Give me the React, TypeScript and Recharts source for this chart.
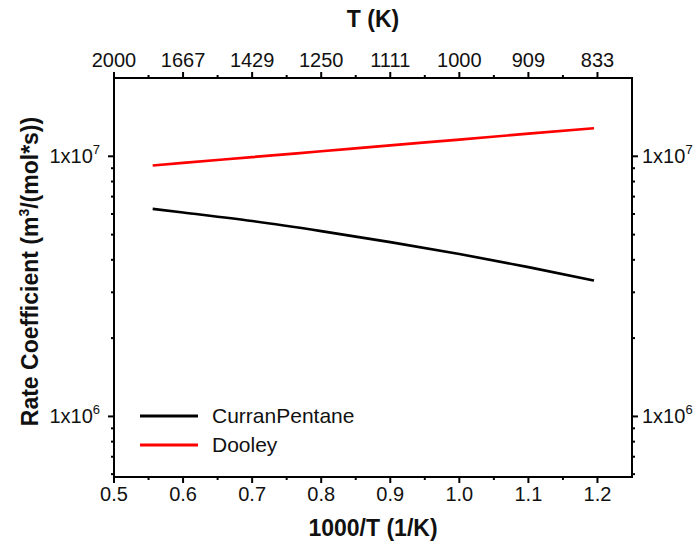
import React from "react";
import { LineChart, Line, XAxis, YAxis, Legend } from "recharts";

// 1000/T (1/K)
const invT = [0.556, 0.6, 0.7, 0.8, 0.9, 1.0, 1.1, 1.195];
// rate coefficient, m^3/(mol*s)
const curranPentane = [6.28e6, 6.08e6, 5.64e6, 5.16e6, 4.68e6, 4.21e6, 3.75e6, 3.33e6];
const dooley = [9.22e6, 9.44e6, 9.93e6, 1.046e7, 1.102e7, 1.159e7, 1.222e7, 1.282e7];

const xTicks = [0.5, 0.55, 0.6, 0.65, 0.7, 0.75, 0.8, 0.85, 0.9, 0.95, 1.0, 1.05, 1.1, 1.15, 1.2];
const xTickLabels = ["0.5", "0.6", "0.7", "0.8", "0.9", "1.0", "1.1", "1.2"];
const tempLabels = ["2000", "1667", "1429", "1250", "1111", "1000", "909", "833"];
const yTicks = [
  6e5, 7e5, 8e5, 9e5, 1e6, 2e6, 3e6, 4e6, 5e6, 6e6, 7e6, 8e6, 9e6, 1e7,
];

const rows = invT.map((x, i) => ({ x, curran: curranPentane[i], dooley: dooley[i] }));

const FONT = '"Liberation Sans", Arial, sans-serif';
const MAJOR = 6;
const MINOR = 3;

const isMajorX = (v: number) => Math.abs(Math.round(v * 10) - v * 10) < 1e-6;
const isMajorY = (v: number) => Math.abs(Math.log10(v) - Math.round(Math.log10(v))) < 1e-6;
const xIndex = (v: number) => Math.round((v - 0.5) * 10);

const BottomTick = ({ x, y, payload }: any) => {
  const major = isMajorX(payload.value);
  return (
    <g>
      <line x1={x} x2={x} y1={y} y2={y + (major ? MAJOR : MINOR)} stroke="#000" strokeWidth={2} />
      {major && (
        <text x={x} y={y + 24} textAnchor="middle" fontSize={20} fill="#111">
          {xTickLabels[xIndex(payload.value)]}
        </text>
      )}
    </g>
  );
};

const TopTick = ({ x, y, payload }: any) => {
  const major = isMajorX(payload.value);
  return (
    <g>
      <line x1={x} x2={x} y1={y} y2={y - (major ? MAJOR : MINOR)} stroke="#000" strokeWidth={2} />
      {major && (
        <text x={x} y={y - 11} textAnchor="middle" fontSize={20} fill="#111">
          {tempLabels[xIndex(payload.value)]}
        </text>
      )}
    </g>
  );
};

const SideTick = ({ x, y, payload, side }: any) => {
  const major = isMajorY(payload.value);
  const dir = side === "left" ? -1 : 1;
  const exp = Math.round(Math.log10(payload.value));
  return (
    <g>
      <line x1={x} x2={x + dir * (major ? MAJOR : MINOR)} y1={y} y2={y} stroke="#000" strokeWidth={2} />
      {major && (
        <text
          x={side === "left" ? x - 14 : x + 10}
          y={y + 7}
          textAnchor={side === "left" ? "end" : "start"}
          fontSize={20}
          fill="#111"
        >
          1x10
          <tspan dy={-9} fontSize={13}>
            {exp}
          </tspan>
        </text>
      )}
    </g>
  );
};

const LegendBox = ({ payload }: any) => (
  <div style={{ fontFamily: FONT, fontSize: 21, color: "#111" }}>
    {(payload || []).map((p: any) => (
      <div key={p.value} style={{ display: "flex", alignItems: "center", height: 29.5 }}>
        <svg width={58} height={6} style={{ marginRight: 14 }}>
          <line x1={0} x2={58} y1={3} y2={3} stroke={p.color} strokeWidth={3} />
        </svg>
        <span>{p.value}</span>
      </div>
    ))}
  </div>
);

const axisLine = { stroke: "#000", strokeWidth: 2, strokeLinecap: "square" as const };

export default function App() {
  return (
    <div style={{ position: "absolute", left: 0, top: 0 }}>
      <LineChart
        width={697}
        height={550}
        data={rows}
        margin={{ top: 0, right: 0, bottom: 0, left: 0 }}
        style={{ fontFamily: FONT, background: "#fff" }}
      >
        <XAxis
          xAxisId="bottom"
          dataKey="x"
          type="number"
          orientation="bottom"
          domain={[0.5, 1.25]}
          allowDataOverflow
          ticks={xTicks}
          interval={0}
          height={73}
          tickSize={0}
          tickMargin={0}
          tickLine={false}
          axisLine={axisLine}
          tick={<BottomTick />}
          label={{
            content: ({ viewBox }: any) => (
              <text
                x={viewBox.x + viewBox.width / 2}
                y={viewBox.y + 59}
                textAnchor="middle"
                fontSize={23}
                fontWeight="bold"
                fill="#111"
              >
                1000/T (1/K)
              </text>
            ),
          }}
        />
        <XAxis
          xAxisId="top"
          dataKey="x"
          type="number"
          orientation="top"
          domain={[0.5, 1.25]}
          allowDataOverflow
          ticks={xTicks}
          interval={0}
          height={78}
          tickSize={0}
          tickMargin={0}
          tickLine={false}
          axisLine={axisLine}
          tick={<TopTick />}
          label={{
            content: ({ viewBox }: any) => (
              <text
                x={viewBox.x + viewBox.width / 2}
                y={viewBox.y + 27}
                textAnchor="middle"
                fontSize={23}
                fontWeight="bold"
                fill="#111"
              >
                T (K)
              </text>
            ),
          }}
        />
        <YAxis
          yAxisId="left"
          type="number"
          scale="log"
          domain={[5.85e5, 2e7]}
          allowDataOverflow
          ticks={yTicks}
          interval={0}
          width={114}
          tickSize={0}
          tickMargin={0}
          tickLine={false}
          axisLine={axisLine}
          tick={<SideTick side="left" />}
          label={{
            content: ({ viewBox }: any) => {
              const cy = viewBox.y + viewBox.height / 2 - 6;
              return (
                <text
                  x={38}
                  y={cy}
                  transform={`rotate(-90, 38, ${cy})`}
                  textAnchor="middle"
                  fontSize={23}
                  fontWeight="bold"
                  fill="#111"
                >
                  Rate Coefficient (m
                  <tspan dy={-9} fontSize={14}>
                    3
                  </tspan>
                  <tspan dy={9}>/(mol*s))</tspan>
                </text>
              );
            },
          }}
        />
        <YAxis
          yAxisId="right"
          orientation="right"
          type="number"
          scale="log"
          domain={[5.85e5, 2e7]}
          allowDataOverflow
          ticks={yTicks}
          interval={0}
          width={65}
          tickSize={0}
          tickMargin={0}
          tickLine={false}
          axisLine={axisLine}
          tick={<SideTick side="right" />}
        />
        <Legend
          layout="vertical"
          align="center"
          verticalAlign="middle"
          content={<LegendBox />}
          wrapperStyle={{ left: 140, top: 401, width: "auto", bottom: "auto" }}
        />
        <Line
          xAxisId="bottom"
          yAxisId="left"
          dataKey="curran"
          name="CurranPentane"
          type="monotone"
          stroke="#000"
          strokeWidth={2.7}
          dot={false}
          isAnimationActive={false}
        />
        <Line
          xAxisId="bottom"
          yAxisId="left"
          dataKey="dooley"
          name="Dooley"
          type="monotone"
          stroke="#ff0000"
          strokeWidth={2.7}
          dot={false}
          isAnimationActive={false}
        />
      </LineChart>
    </div>
  );
}
